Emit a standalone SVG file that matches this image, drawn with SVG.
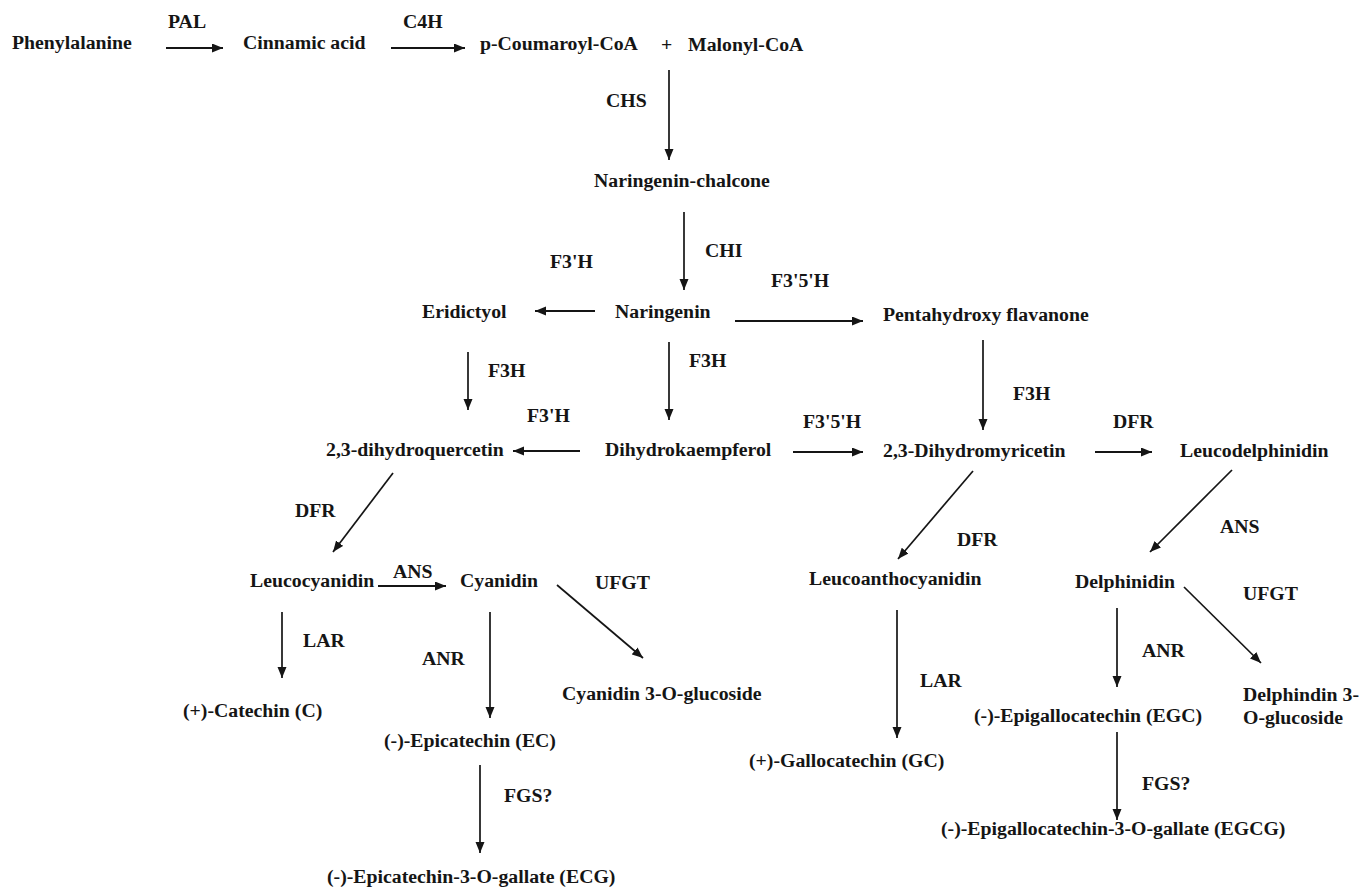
<svg xmlns="http://www.w3.org/2000/svg" width="1359" height="888" viewBox="0 0 1359 888">
<defs>
<style>
text{font-family:"Liberation Serif","Times New Roman",serif;font-weight:bold;font-size:19.8px;fill:#151515}
.c line{stroke:#151515;stroke-width:1.7;marker-end:url(#ah)}
.c line.h{stroke-width:2.1}
</style>
<marker id="ah" markerUnits="userSpaceOnUse" markerWidth="12" markerHeight="10" refX="11" refY="4.5" orient="auto">
<path d="M0,0 L11,4.5 L0,9 z" fill="#151515"/>
</marker>
</defs>
<rect width="1359" height="888" fill="#fff"/>
<g class="c" id="connectors">
<line class="h" x1="166" y1="48" x2="223" y2="48"/>
<line class="h" x1="391" y1="48" x2="465" y2="48"/>
<line x1="669" y1="70" x2="669" y2="160"/>
<line x1="684" y1="212" x2="684" y2="290"/>
<line class="h" x1="595" y1="311" x2="535" y2="311"/>
<line class="h" x1="735" y1="321" x2="863" y2="321"/>
<line x1="468" y1="352" x2="468" y2="410"/>
<line x1="669" y1="342" x2="669" y2="420"/>
<line x1="983" y1="340" x2="983" y2="430"/>
<line class="h" x1="580" y1="451" x2="513" y2="451"/>
<line class="h" x1="793" y1="452" x2="863" y2="452"/>
<line class="h" x1="1095" y1="452" x2="1152" y2="452"/>
<line x1="393" y1="473" x2="333" y2="552"/>
<line x1="973" y1="471" x2="898" y2="559"/>
<line x1="1232" y1="470" x2="1150" y2="552"/>
<line class="h" x1="378" y1="586" x2="446" y2="586"/>
<line x1="557" y1="585" x2="643" y2="658"/>
<line x1="282" y1="612" x2="282" y2="678"/>
<line x1="490" y1="612" x2="490" y2="718"/>
<line x1="480" y1="765" x2="480" y2="853"/>
<line x1="897" y1="610" x2="897" y2="738"/>
<line x1="1117" y1="608" x2="1117" y2="687"/>
<line x1="1117" y1="732" x2="1117" y2="820"/>
<line x1="1184" y1="587" x2="1261" y2="663"/>
</g>
<g id="labels">
<text x="168" y="28">PAL</text>
<text x="403" y="28">C4H</text>
<text x="606" y="107">CHS</text>
<text x="705" y="257">CHI</text>
<text x="550" y="268">F3'H</text>
<text x="771" y="287">F3'5'H</text>
<text x="488" y="377">F3H</text>
<text x="689" y="367">F3H</text>
<text x="1013" y="400">F3H</text>
<text x="527" y="422">F3'H</text>
<text x="803" y="428">F3'5'H</text>
<text x="1113" y="428">DFR</text>
<text x="295" y="517">DFR</text>
<text x="957" y="546">DFR</text>
<text x="1220" y="533">ANS</text>
<text x="393" y="578">ANS</text>
<text x="595" y="589">UFGT</text>
<text x="1243" y="600">UFGT</text>
<text x="303" y="647">LAR</text>
<text x="422" y="665">ANR</text>
<text x="504" y="802">FGS?</text>
<text x="920" y="687">LAR</text>
<text x="1142" y="657">ANR</text>
<text x="1142" y="790">FGS?</text>
</g>
<g id="phenylalanine"><text x="12" y="49">Phenylalanine</text></g>
<g id="cinnamic-acid"><text x="243" y="49">Cinnamic acid</text></g>
<g id="p-coumaroyl-coa"><text x="480" y="50">p-Coumaroyl-CoA</text></g>
<g id="plus"><text x="661" y="51">+</text></g>
<g id="malonyl-coa"><text x="688" y="51">Malonyl-CoA</text></g>
<g id="naringenin-chalcone"><text x="594" y="187">Naringenin-chalcone</text></g>
<g id="eridictyol"><text x="422" y="318">Eridictyol</text></g>
<g id="naringenin"><text x="615" y="318">Naringenin</text></g>
<g id="pentahydroxy-flavanone"><text x="883" y="321">Pentahydroxy flavanone</text></g>
<g id="dihydroquercetin"><text x="326" y="456">2,3-dihydroquercetin</text></g>
<g id="dihydrokaempferol"><text x="605" y="456">Dihydrokaempferol</text></g>
<g id="dihydromyricetin"><text x="883" y="457">2,3-Dihydromyricetin</text></g>
<g id="leucodelphinidin"><text x="1180" y="457">Leucodelphinidin</text></g>
<g id="leucocyanidin"><text x="250" y="587">Leucocyanidin</text></g>
<g id="cyanidin"><text x="460" y="587">Cyanidin</text></g>
<g id="cyanidin-3-o-glucoside"><text x="562" y="700">Cyanidin 3-O-glucoside</text></g>
<g id="leucoanthocyanidin"><text x="809" y="585">Leucoanthocyanidin</text></g>
<g id="delphinidin"><text x="1075" y="588">Delphinidin</text></g>
<g id="delphindin-3-o-glucoside"><text x="1243" y="701">Delphindin 3-</text><text x="1243" y="724">O-glucoside</text></g>
<g id="catechin"><text x="183" y="717">(+)-Catechin (C)</text></g>
<g id="epicatechin"><text x="384" y="747">(-)-Epicatechin (EC)</text></g>
<g id="ecg"><text x="327" y="883">(-)-Epicatechin-3-O-gallate (ECG)</text></g>
<g id="gallocatechin"><text x="749" y="767">(+)-Gallocatechin (GC)</text></g>
<g id="epigallocatechin"><text x="974" y="722">(-)-Epigallocatechin (EGC)</text></g>
<g id="egcg"><text x="941" y="835">(-)-Epigallocatechin-3-O-gallate (EGCG)</text></g>
</svg>
